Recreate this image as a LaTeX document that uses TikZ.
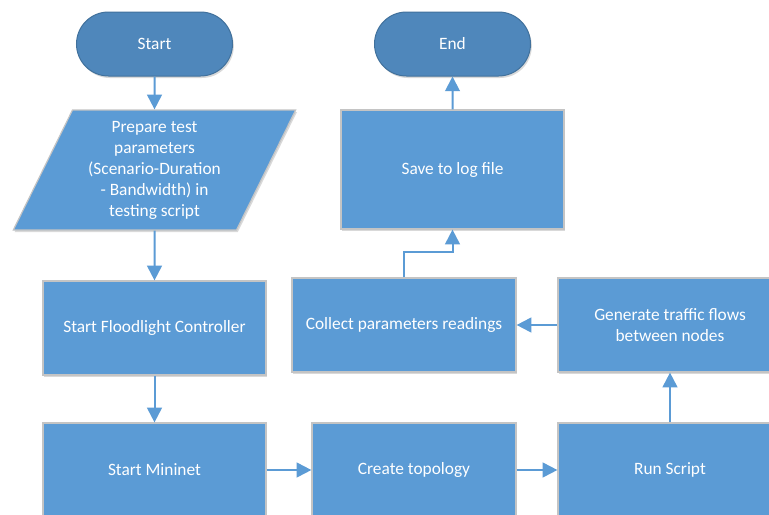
\documentclass[tikz,border=0pt]{standalone}
\usepackage{fontspec}
\setmainfont{Carlito}
\usetikzlibrary{arrows.meta,shapes.geometric,shapes.misc,shadows}

\definecolor{procblue}{HTML}{5B9BD5}
\definecolor{termblue}{HTML}{4F87BB}
\definecolor{termedge}{HTML}{41719C}
\definecolor{procedge}{HTML}{C4C4C4}
\definecolor{flowline}{HTML}{5B9BD5}

\begin{document}
\begin{tikzpicture}[x=0.75pt,y=-0.75pt,
  every node/.style={font=\fontsize{13}{15.75}\selectfont, text=white, align=center, inner sep=0pt},
  softshadow/.style={drop shadow={shadow xshift=1pt, shadow yshift=-1.5pt, opacity=0.15, fill=black}},
  procbox/.style={rectangle, fill=procblue, draw=procedge, line width=0.9pt, softshadow},
  termbox/.style={rounded rectangle, fill=termblue, draw=termedge, line width=0.75pt,
    minimum width=117pt, minimum height=48pt, softshadow},
  iobox/.style={trapezium, trapezium left angle=64, trapezium right angle=116,
    trapezium stretches=true, minimum width=212.25pt, minimum height=90pt,
    fill=procblue, draw=procedge, line width=0.9pt, softshadow},
  flow/.style={draw=flowline, line width=1.5pt, -{Triangle[length=11pt,width=11pt]}}]

  % page area
  \fill[white] (0,0) rectangle (769,515);
  \clip (0,0) rectangle (769,515);

  % terminals
  \node[termbox] (start) at (154.5,44) {Start};
  \node[termbox] (finish) at (452.5,44) {End};

  % input / process steps
  \node[iobox] (prep) at (154.5,170) {Prepare test\\parameters\\(Scenario-Duration\\- Bandwidth) in\\testing script};
  \node[procbox, minimum width=167.25pt, minimum height=70.5pt] (flood) at (154.5,328) {Start Floodlight Controller};
  \node[procbox, minimum width=167.25pt, minimum height=70.5pt] (mininet) at (154.5,470) {Start Mininet};
  \node[procbox, minimum width=153pt, minimum height=70.5pt] (topo) at (414,470) {Create topology};
  \node[procbox, minimum width=168pt, minimum height=70.5pt] (run) at (670,470) {Run Script};
  \node[procbox, minimum width=168pt, minimum height=70.5pt] (traffic) at (670,325) {Generate traffic flows\\between nodes};
  \node[procbox, minimum width=168pt, minimum height=70.5pt] (collect) at (404,325) {Collect parameters readings};
  \node[procbox, minimum width=167.25pt, minimum height=89.25pt] (save) at (452.5,169.5) {Save to log file};

  % connectors
  \draw[flow] (start) -- (prep);
  \draw[flow] (prep) -- (flood);
  \draw[flow] (flood) -- (mininet);
  \draw[flow] (mininet) -- (topo);
  \draw[flow] (topo) -- (run);
  \draw[flow] (run) -- (traffic);
  \draw[flow] (traffic) -- (collect);
  \draw[flow] (collect.north) -- ++(0,-25) -| (save.south);
  \draw[flow] (save) -- (finish);
\end{tikzpicture}
\end{document}
